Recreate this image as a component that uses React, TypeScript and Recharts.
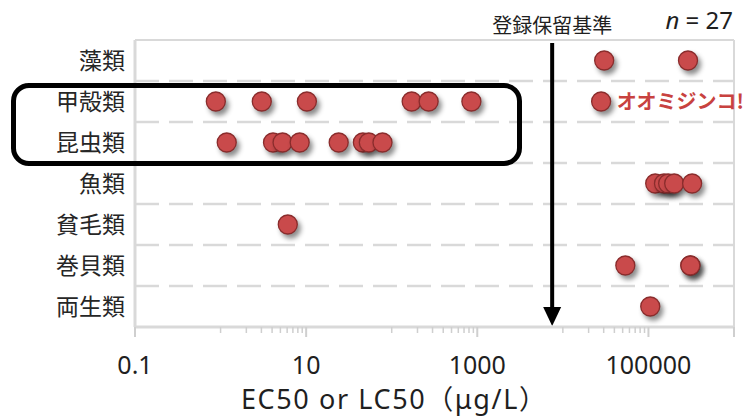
import { ScatterChart, Scatter, XAxis, YAxis, ReferenceLine, LabelList } from "recharts";

const FONT = '"Noto Sans CJK JP", "Noto Sans", sans-serif';
const LATIN_FONT = '"Noto Sans", "Noto Sans CJK JP", sans-serif';

const categories = ["藻類", "甲殻類", "昆虫類", "魚類", "貧毛類", "巻貝類", "両生類"];

// EC50 / LC50 (µg/L) per taxon
const algae = [30400, 290000];
const crustaceans = [0.88, 3.03, 10.2, 171, 270, 853, 28000];
const insects = [1.18, 4.1, 5.3, 8.4, 24, 46, 54, 78];
const fish = [120000, 152000, 170000, 200000, 324000];
const oligochaetes = [6.1];
const snails = [53700, 309000, 309000];
const amphibians = [105000];

const majorTicks = [0.1, 10, 1000, 100000, 1000000];
const minorTicks = [
  1, 2, 3, 4, 5, 6, 7, 8, 9,
  100, 200, 300, 400, 500, 600, 700, 800, 900,
  10000, 20000, 30000, 40000, 50000, 60000, 70000, 80000, 90000,
];
const hiddenTickLabels = [1000000];

const regulationLimit = 7500;
const regulationLabel = "登録保留基準";
const sampleSize = 27;
const callout = { row: "甲殻類", index: 6, text: "オオミジンコ!" };

const seriesByRow = [algae, crustaceans, insects, fish, oligochaetes, snails, amphibians];

const data = seriesByRow.flatMap((values, row) =>
  values.map((v, i) => ({
    x: v,
    y: row,
    note: categories[row] === callout.row && i === callout.index ? callout.text : undefined,
  })),
);

const allTicks = [...majorTicks, ...minorTicks].sort((a, b) => a - b);
const rowBoundaries = categories.slice(1).map((_, i) => i + 0.5);

const GRID = "#d9d9d9";

function LogTick({ x, y, payload }: any) {
  const v = payload.value;
  const major = majorTicks.includes(v);
  return (
    <g>
      <line x1={x} x2={x} y1={y} y2={y + (major ? 10 : 6)} stroke="#cfcfcf" strokeWidth={major ? 2 : 1.5} />
      {major && !hiddenTickLabels.includes(v) && (
        <text x={x} y={y + 47} textAnchor="middle" fontSize={25} fill="#1f1f1f" fontFamily={LATIN_FONT}>
          {String(v)}
        </text>
      )}
    </g>
  );
}

function Dot({ cx, cy }: any) {
  return (
    <circle
      cx={cx}
      cy={cy}
      r={9.5}
      fill="#C94A4B"
      stroke="#8A2C2C"
      strokeWidth={1.3}
      style={{ filter: "drop-shadow(3px 4px 2.5px rgba(0,0,0,0.45))" }}
    />
  );
}

// y axis is reversed, so sort the ends before drawing the arrow downwards
function Arrow({ x1, y1, y2 }: any) {
  const top = Math.min(y1, y2);
  const bottom = Math.max(y1, y2);
  const x = x1;
  return (
    <g>
      <line x1={x} y1={top + 3} x2={x} y2={bottom - 16} stroke="#000" strokeWidth={4} />
      <polygon points={`${x - 9},${bottom - 20} ${x + 9},${bottom - 20} ${x},${bottom - 1}`} fill="#000" />
    </g>
  );
}

export default function App() {
  return (
    <div style={{ position: "absolute", left: 0, top: 0, width: 756, height: 418, background: "#fff", fontFamily: FONT }}>
      <ScatterChart width={756} height={418} margin={{ top: 40, right: 22, bottom: 0, left: 0 }}>
        <XAxis
          type="number"
          dataKey="x"
          scale="log"
          domain={[0.1, 1000000]}
          ticks={allTicks}
          interval={0}
          tick={<LogTick />}
          tickLine={false}
          tickSize={0}
          tickMargin={0}
          axisLine={{ stroke: GRID, strokeWidth: 3 }}
          height={91}
          allowDataOverflow
        />
        <YAxis
          type="number"
          dataKey="y"
          domain={[-0.5, categories.length - 0.5]}
          reversed
          ticks={categories.map((_, i) => i)}
          interval={0}
          tickFormatter={(i: number) => categories[i]}
          tick={{ fontSize: 23, fill: "#262626" }}
          tickLine={false}
          tickSize={0}
          tickMargin={10}
          axisLine={{ stroke: GRID, strokeWidth: 3 }}
          width={135}
        />
        {rowBoundaries.map((b) => (
          <ReferenceLine key={b} y={b} stroke={GRID} strokeWidth={2.5} strokeDasharray="24 10" />
        ))}
        <ReferenceLine y={-0.5} stroke={GRID} strokeWidth={2} />
        <ReferenceLine
          x={1000000}
          stroke={GRID}
          strokeWidth={2}
          label={({ viewBox }: any) => (
            <text x={viewBox.x - 1} y={viewBox.y - 11} textAnchor="end" fontSize={24} fill="#1f1f1f" fontFamily={LATIN_FONT}>
              <tspan fontStyle="italic">n</tspan>
              <tspan>{` = ${sampleSize}`}</tspan>
            </text>
          )}
        />
        <ReferenceLine
          x={regulationLimit}
          shape={<Arrow />}
          label={{ value: regulationLabel, position: "top", fontSize: 20, fill: "#1f1f1f", offset: 7 }}
        />
        <Scatter data={data} shape={<Dot />} isAnimationActive={false}>
          <LabelList dataKey="note" position="right" offset={11} fill="#C8423F" fontSize={20} fontWeight="bold" />
        </Scatter>
      </ScatterChart>
      <div
        style={{
          position: "absolute",
          left: 11,
          top: 83,
          width: 511,
          height: 83,
          boxSizing: "border-box",
          border: "5px solid #000",
          borderRadius: 18,
        }}
      />
      <div
        style={{
          position: "absolute",
          left: 241,
          top: 381,
          height: 36,
          fontFamily: LATIN_FONT,
          fontSize: 27,
          lineHeight: "36px",
          letterSpacing: 1.6,
          color: "#1f1f1f",
          whiteSpace: "nowrap",
        }}
      >
        EC50 or LC50（μg/L）
      </div>
    </div>
  );
}
